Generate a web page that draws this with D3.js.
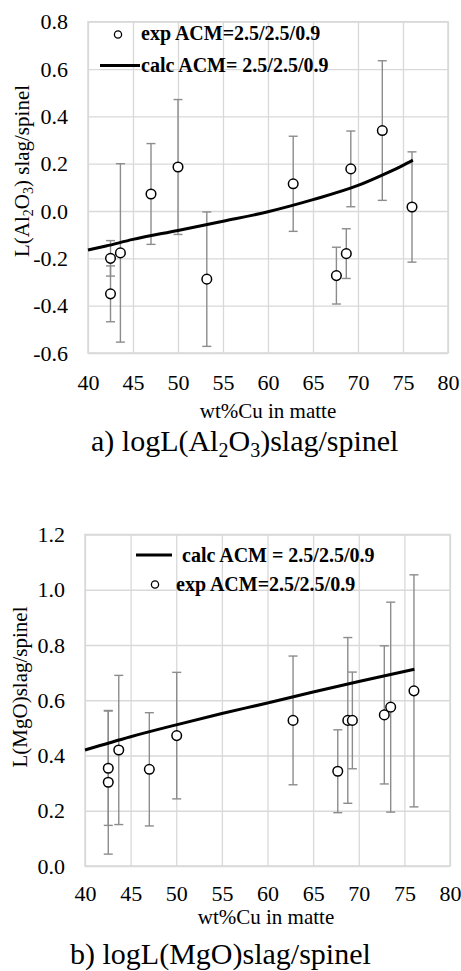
<!DOCTYPE html>
<html>
<head>
<meta charset="utf-8">
<script src="https://cdn.jsdelivr.net/npm/d3@7"></script>
<style>
  body { margin: 0; background: #fff; }
  svg { display: block; }
  svg text { font-family: "Liberation Serif", "Times New Roman", serif; }
</style>
</head>
<body>
<script>
// ---- panel a) Al2O3 ----
const cuAl = [42.5, 42.5, 43.6, 47.0, 50.0, 53.2, 62.8, 67.6, 68.7, 69.2, 72.7, 76.0];
const alExp = [-0.20, -0.35, -0.177, 0.072, 0.186, -0.288, 0.115, -0.273, -0.18, 0.178, 0.34, 0.017];
const alErr = [0.075, 0.118, 0.377, 0.213, 0.285, 0.284, 0.201, 0.12, 0.105, 0.16, 0.295, 0.233];
const calcCuAl = [40, 42, 45, 50, 55, 60, 65, 70, 73, 75, 76.1];
const alCalc = [-0.165, -0.148, -0.12, -0.082, -0.043, -0.003, 0.048, 0.108, 0.157, 0.193, 0.215];
const alTicks = [-0.6, -0.4, -0.2, 0.0, 0.2, 0.4, 0.6, 0.8];

// ---- panel b) MgO ----
const cuMg = [42.55, 42.55, 43.7, 47.05, 50.05, 62.8, 67.7, 68.8, 69.3, 72.8, 73.5, 76.05];
const mgExp = [0.354, 0.303, 0.42, 0.35, 0.472, 0.527, 0.343, 0.527, 0.527, 0.547, 0.575, 0.634];
const mgErr = [0.207, 0.26, 0.27, 0.205, 0.229, 0.233, 0.15, 0.3, 0.175, 0.25, 0.38, 0.42];
const calcCuMg = [40, 45, 50, 55, 60, 65, 70, 76.1];
const mgCalc = [0.42, 0.468, 0.511, 0.552, 0.59, 0.63, 0.668, 0.712];
const mgTicks = [0.0, 0.2, 0.4, 0.6, 0.8, 1.0, 1.2];

const cuTicks = [40, 45, 50, 55, 60, 65, 70, 75, 80];
const expName = "exp ACM=2.5/2.5/0.9";

const gridColor = "#d9d9d9";
const barColor = "#8c8c8c";
const serif = "'Liberation Serif', 'Times New Roman', serif";

let svg = d3.select("body")
            .append("svg")
            .attr("width", 461)
            .attr("height", 971)
            .attr("font-family", serif);

function drawPanel(p) {
    let x = d3.scaleLinear().domain([40, 80]).range(p.xRange);
    let y = d3.scaleLinear().domain(p.yDomain).range(p.yRange);
    let w = p.xRange[1] - p.xRange[0];
    let h = p.yRange[0] - p.yRange[1];

    let g = svg.append("g");

    // gridlines + tick labels
    let yAxis = g.append("g")
        .attr("transform", `translate(${p.xRange[0]},0)`)
        .call(d3.axisLeft(y).tickValues(p.yTicks).tickSize(-w).tickPadding(20)
              .tickFormat((d) => d.toFixed(1)));
    let xAxis = g.append("g")
        .attr("transform", `translate(0,${p.yRange[0]})`)
        .call(d3.axisBottom(x).tickValues(cuTicks).tickSize(-h).tickPadding(p.xPad)
              .tickFormat((d) => d));
    [yAxis, xAxis].forEach((a) => {
        a.attr("font-family", serif).attr("font-size", 22);
        a.select(".domain").remove();
        a.selectAll("line").attr("stroke", gridColor).attr("stroke-width", 1.3);
        a.selectAll("text").attr("fill", "#000");
    });

    g.append("rect")
        .attr("x", p.xRange[0]).attr("y", p.yRange[1])
        .attr("width", w).attr("height", h)
        .attr("fill", "none").attr("stroke", gridColor).attr("stroke-width", 1.5);

    // error bars
    let pts = p.cu.map((c, i) => ({ cu: c, v: p.exp[i], e: p.err[i] }));
    let bars = g.append("g").attr("stroke", barColor).attr("stroke-width", 1.4);
    pts.forEach((d) => {
        bars.append("line")
            .attr("x1", x(d.cu)).attr("x2", x(d.cu))
            .attr("y1", y(d.v + d.e)).attr("y2", y(d.v - d.e));
        [d.v + d.e, d.v - d.e].forEach((v) => {
            bars.append("line")
                .attr("x1", x(d.cu) - 4.5).attr("x2", x(d.cu) + 4.5)
                .attr("y1", y(v)).attr("y2", y(v));
        });
    });

    // calculated line
    let line = d3.line()
        .x((d) => x(d[0]))
        .y((d) => y(d[1]))
        .curve(d3.curveMonotoneX);
    g.append("path")
        .datum(p.calcCu.map((c, i) => [c, p.calc[i]]))
        .attr("d", line)
        .attr("fill", "none")
        .attr("stroke", "#000")
        .attr("stroke-width", 3);

    // experimental points
    g.selectAll(".pt")
        .data(pts)
        .enter()
        .append("circle")
        .attr("class", "pt")
        .attr("cx", (d) => x(d.cu))
        .attr("cy", (d) => y(d.v))
        .attr("r", 4.8)
        .attr("fill", "#fff")
        .attr("stroke", "#000")
        .attr("stroke-width", 1.5);

    // legend
    let leg = g.append("g").attr("font-weight", "bold").attr("font-size", 20);
    leg.append("circle")
        .attr("cx", p.legExp.cx).attr("cy", p.legExp.cy).attr("r", 3.6)
        .attr("fill", "#fff").attr("stroke", "#000").attr("stroke-width", 1.3);
    leg.append("text").attr("x", p.legExp.tx).attr("y", p.legExp.ty).text(expName);
    leg.append("line")
        .attr("x1", p.legCalc.x1).attr("x2", p.legCalc.x2)
        .attr("y1", p.legCalc.y).attr("y2", p.legCalc.y)
        .attr("stroke", "#000").attr("stroke-width", 3);
    leg.append("text").attr("x", p.legCalc.tx).attr("y", p.legCalc.ty).text(p.calcName);

    // y title
    let yt = g.append("text")
        .attr("transform", `translate(${p.yTitle[0]},${p.yTitle[1]}) rotate(-90)`)
        .attr("text-anchor", "middle")
        .attr("font-size", 21);
    p.yTitleParts.forEach((s) => {
        yt.append("tspan")
            .attr("dy", s.sub ? 4 : (s.after ? -4 : 0))
            .attr("font-size", s.sub ? 14 : 21)
            .text(s.t);
    });

    // x title
    g.append("text")
        .attr("x", p.xTitle[0]).attr("y", p.xTitle[1])
        .attr("text-anchor", "middle")
        .attr("font-size", 21)
        .text("wt%Cu in matte");

    // caption
    let cap = g.append("text")
        .attr("x", p.caption[0]).attr("y", p.caption[1])
        .attr("font-size", 30);
    p.captionParts.forEach((s) => {
        cap.append("tspan")
            .attr("dy", s.sub ? 6 : (s.after ? -6 : 0))
            .attr("font-size", s.sub ? 20 : 30)
            .text(s.t);
    });
}

drawPanel({
    xRange: [88, 448], yDomain: [-0.6, 0.8], yRange: [353, 21.7], yTicks: alTicks, xPad: 21,
    cu: cuAl, exp: alExp, err: alErr, calcCu: calcCuAl, calc: alCalc,
    calcName: "calc ACM= 2.5/2.5/0.9",
    legExp: { cx: 118, cy: 34.5, tx: 141, ty: 40 },
    legCalc: { x1: 100, x2: 140, y: 65.5, tx: 141, ty: 72 },
    yTitle: [29, 171],
    yTitleParts: [{ t: "L(Al" }, { t: "2", sub: true }, { t: "O", after: true }, { t: "3", sub: true }, { t: ") slag/spinel", after: true }],
    xTitle: [268, 418],
    caption: [91, 451],
    captionParts: [{ t: "a) logL(Al" }, { t: "2", sub: true }, { t: "O", after: true }, { t: "3", sub: true }, { t: ")slag/spinel", after: true }]
});

drawPanel({
    xRange: [85, 450], yDomain: [0, 1.2], yRange: [866, 534.5], yTicks: mgTicks, xPad: 19,
    cu: cuMg, exp: mgExp, err: mgErr, calcCu: calcCuMg, calc: mgCalc,
    calcName: "calc ACM = 2.5/2.5/0.9",
    legExp: { cx: 155, cy: 584.5, tx: 176, ty: 590.5 },
    legCalc: { x1: 136, x2: 172, y: 555, tx: 182, ty: 561.5 },
    yTitle: [27, 687],
    yTitleParts: [{ t: "L(MgO)slag/spinel" }],
    xTitle: [266, 924],
    caption: [70, 964],
    captionParts: [{ t: "b) logL(MgO)slag/spinel" }]
});
</script>
</body>
</html>
